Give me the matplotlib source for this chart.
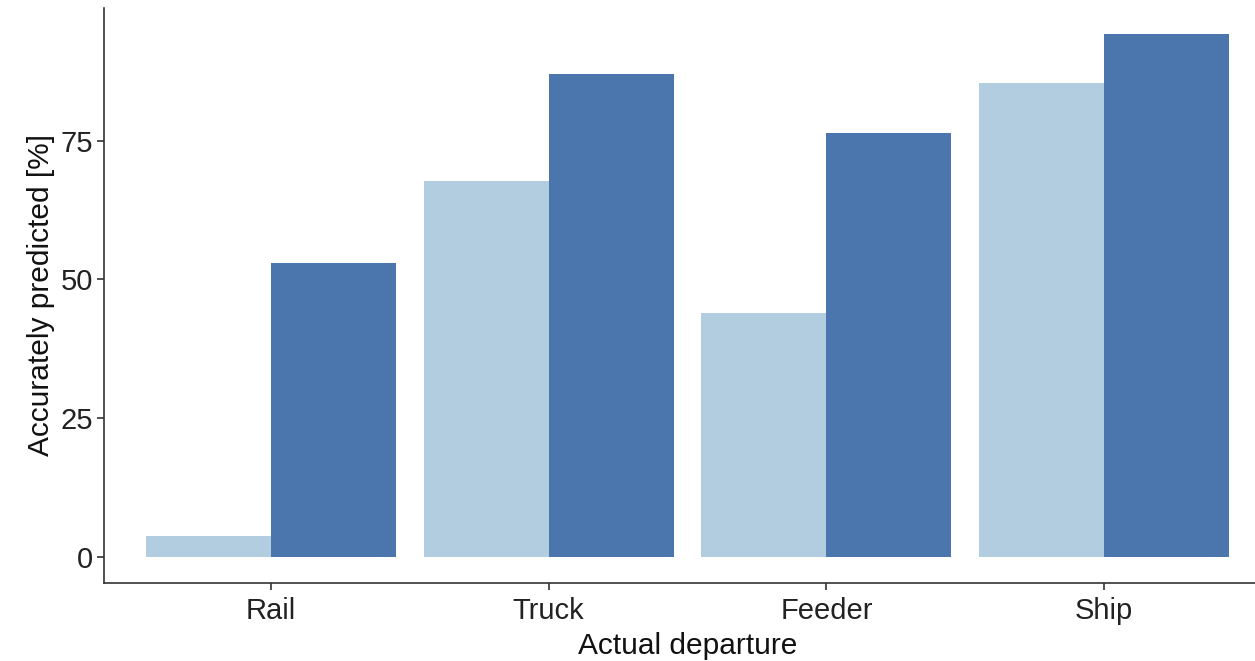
import matplotlib.pyplot as plt
import numpy as np

plt.rcParams['font.family'] = ['Liberation Sans', 'DejaVu Sans']

categories = ['Rail', 'Truck', 'Feeder', 'Ship']
light_vals = [3.8, 67.8, 43.9, 85.4]
dark_vals = [52.9, 87.1, 76.4, 94.2]

light_col = '#b3cde0'
dark_col = '#4a76ad'

fig = plt.figure(figsize=(12.55, 6.61), dpi=100)
ax = fig.add_axes([104 / 1255, 78 / 661, 1167 / 1255, 575 / 661])

x = np.arange(1, len(categories) + 1)
w = 0.45
ax.bar(x - w / 2, light_vals, width=w, color=light_col, linewidth=0)
ax.bar(x + w / 2, dark_vals, width=w, color=dark_col, linewidth=0)

ax.set_xlim(0.4, 4.6)
ymax = max(dark_vals) * 1.05
ax.set_ylim(-0.05 * max(dark_vals), ymax)

ax.set_yticks([0, 25, 50, 75])
ax.set_xticks(x)
ax.set_xticklabels(categories)
ax.tick_params(axis='both', labelsize=21, colors='#333333', length=5, width=1.2)
ax.tick_params(axis='both', labelcolor='#222222')
ax.tick_params(axis='x', pad=5)
ax.tick_params(axis='y', pad=3)

for s in ['top', 'right']:
    ax.spines[s].set_visible(False)
for s in ['left', 'bottom']:
    ax.spines[s].set_color('#333333')
    ax.spines[s].set_linewidth(1.2)

ax.set_xlabel('Actual departure', fontsize=21.5, color='#111111', labelpad=5)
ax.set_ylabel('Accurately predicted [%]', fontsize=21.5, color='#111111', labelpad=4)

plt.savefig('out.png', dpi=100, facecolor='white')
